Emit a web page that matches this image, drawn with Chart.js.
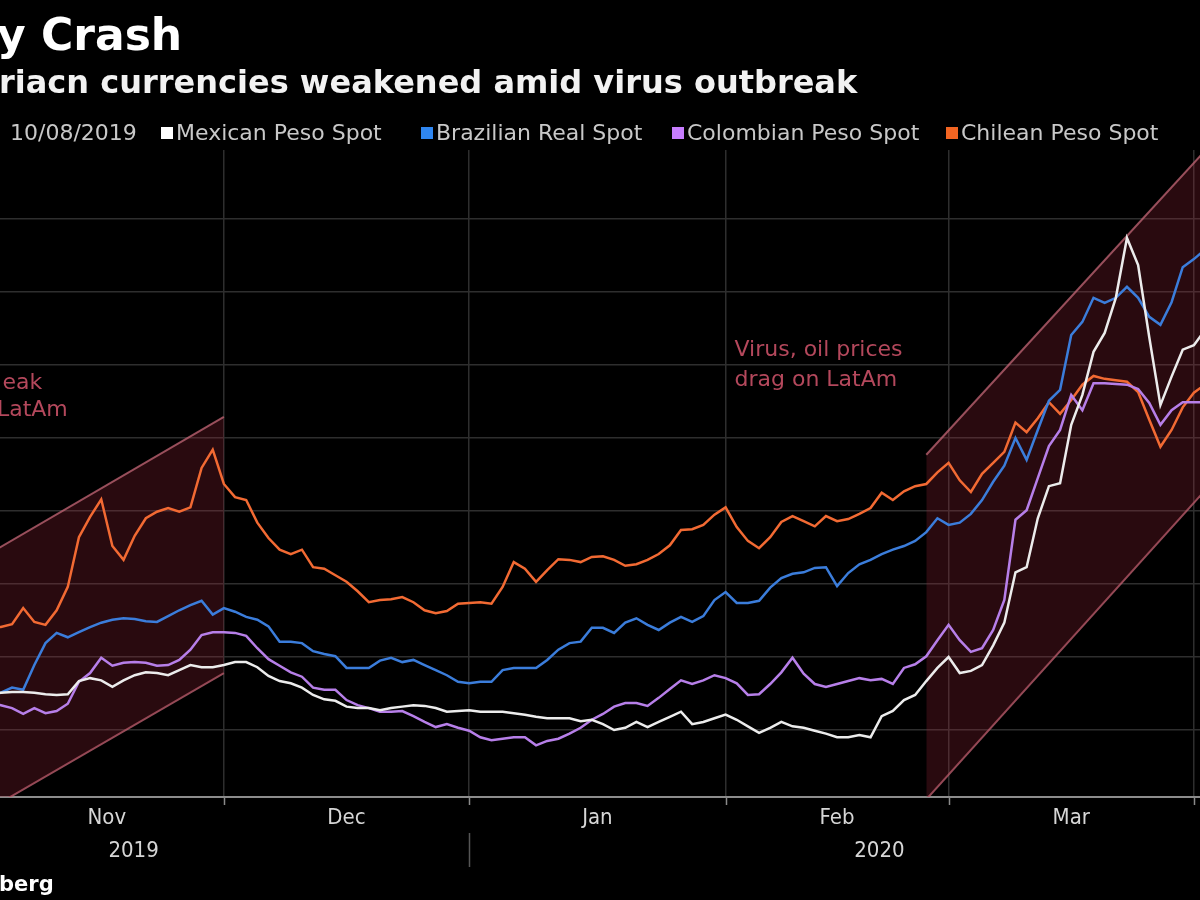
<!DOCTYPE html>
<html>
<head>
<meta charset="utf-8">
<script src="https://cdn.jsdelivr.net/npm/chart.js@4.4.1/dist/chart.umd.min.js"></script>
<style>
  html, body { margin: 0; padding: 0; background: #000; }
  #wrap { position: relative; width: 1200px; height: 900px; overflow: hidden; background: #000; font-family: "DejaVu Sans", sans-serif; }
  #chart { position: absolute; left: 0; top: 0; }
  .txt { position: absolute; white-space: nowrap; line-height: 1; }
  .title { left: -3px; top: 13px; color: #fff; font-weight: bold; font-size: 44px; }
  .subtitle { left: -1px; top: 66px; color: #f2f2f2; font-weight: bold; font-size: 32px; }
  .legend { top: 122px; color: #c8c8c8; font-size: 22px; }
  .legend i { display: inline-block; width: 12px; height: 12px; margin-right: 3px; vertical-align: 1px; }
  .source { left: -1px; top: 874px; color: #fff; font-weight: bold; font-size: 21px; }
</style>
</head>
<body>
<div id="wrap">
  <canvas id="chart" width="1200" height="900"></canvas>
  <div class="txt title">y Crash</div>
  <div class="txt subtitle">riacn currencies weakened amid virus outbreak</div>
  <div class="txt legend" style="left:10px">10/08/2019</div>
  <div id="legend"></div>
  <div class="txt source">berg</div>
</div>
<script>
// business days from 1 Nov 2019 (x axis index = position in this list)
const startDate = new Date(Date.UTC(2019, 10, 1));
const dayCount = 110;

const seriesNames = ["Mexican Peso Spot", "Brazilian Real Spot", "Colombian Peso Spot", "Chilean Peso Spot"];
const seriesColors = ["#ececec", "#3b7ddb", "#b77fe9", "#f26a33"];
const legendSwatch = ["#ffffff", "#2f86f0", "#c77dff", "#f26522"];

const mexicanPeso = [
  15.1, 15.1, 15.2, 15.2, 15.1, 14.9, 14.8, 14.9, 16.7, 17.1,
  16.8, 15.9, 16.8, 17.5, 17.9, 17.8, 17.5, 18.2, 18.9, 18.6,
  18.6, 18.9, 19.3, 19.3, 18.6, 17.4, 16.7, 16.4, 15.8, 14.8,
  14.2, 14.0, 13.2, 13.0, 13.0, 12.7, 13.0, 13.2, 13.4, 13.3,
  13.0, 12.5, 12.6, 12.7, 12.5, 12.5, 12.5, 12.3, 12.1, 11.8,
  11.6, 11.6, 11.6, 11.2, 11.4, 10.8, 10.0, 10.3, 11.1, 10.4,
  11.1, 11.8, 12.5, 10.8, 11.1, 11.6, 12.1, 11.4, 10.5, 9.6,
  10.3, 11.1, 10.5, 10.3, 9.9, 9.5, 9.0, 9.0, 9.3, 9.0,
  11.9, 12.6, 14.1, 14.8, 16.7, 18.5, 20.0, 17.8, 18.1, 18.9,
  21.6, 24.7, 31.6, 32.3, 39.0, 43.4, 43.8, 51.8, 55.9, 61.8,
  64.4, 69.2, 77.4, 73.7, 63.8, 54.5, 58.4, 62.1, 62.7, 64.8
];
const brazilianReal = [
  14.8, 15.1, 15.8, 15.5, 18.9, 21.9, 23.3, 22.7, 23.4, 24.1,
  24.7, 25.1, 25.3, 25.2, 24.9, 24.8, 25.6, 26.4, 27.1, 27.7,
  25.8, 26.7, 26.2, 25.5, 25.1, 24.2, 22.1, 22.1, 21.9, 20.8,
  20.4, 20.1, 18.5, 18.5, 18.5, 19.5, 19.9, 19.3, 19.6, 18.9,
  18.2, 17.5, 16.6, 16.4, 16.6, 16.6, 18.2, 18.5, 18.5, 18.5,
  19.6, 21.0, 21.9, 22.1, 24.0, 24.0, 23.3, 24.7, 25.3, 24.4,
  23.7, 24.7, 25.5, 24.8, 25.6, 27.8, 28.9, 27.4, 27.4, 27.7,
  29.5, 30.8, 31.4, 31.6, 32.2, 32.3, 29.7, 31.5, 32.7, 33.3,
  34.1, 34.7, 35.2, 35.9, 37.1, 39.0, 38.1, 38.4, 39.6, 41.5,
  44.0, 46.2, 50.0, 47.0, 51.1, 55.1, 56.6, 64.1, 65.9, 69.2,
  68.5, 69.2, 70.7, 69.2, 66.6, 65.5, 68.6, 73.4, 74.5, 75.8
];
const colombianPeso = [
  13.7, 13.4, 13.0, 12.2, 13.0, 12.3, 12.6, 13.6, 16.6, 17.8,
  19.9, 18.8, 19.2, 19.3, 19.2, 18.8, 18.9, 19.6, 21.0, 23.0,
  23.4, 23.4, 23.3, 22.9, 21.2, 19.7, 18.8, 17.9, 17.3, 15.8,
  15.5, 15.5, 14.1, 13.4, 13.0, 12.5, 12.5, 12.6, 11.9, 11.1,
  10.4, 10.8, 10.3, 9.9, 9.0, 8.6, 8.8, 9.0, 9.0, 7.9,
  8.5, 8.8, 9.5, 10.3, 11.4, 12.2, 13.2, 13.7, 13.7, 13.3,
  14.4, 15.6, 16.8, 16.3, 16.8, 17.5, 17.1, 16.4, 14.8, 14.9,
  16.3, 17.9, 19.9, 17.7, 16.3, 15.9, 16.3, 16.7, 17.1, 16.8,
  17.0, 16.3, 18.5, 19.0, 20.1, 22.3, 24.4, 22.3, 20.7, 21.2,
  23.7, 27.8, 38.8, 40.1, 44.5, 48.9, 51.1, 55.9, 53.8, 57.5,
  57.5, 57.4, 57.3, 56.7, 54.8, 51.8, 53.8, 54.9, 54.9, 54.9
];
const chileanPeso = [
  24.1, 24.1, 24.5, 26.7, 24.8, 24.4, 26.4, 29.6, 36.4, 39.2,
  41.6, 35.2, 33.3, 36.6, 39.0, 39.9, 40.4, 39.9, 40.5, 45.9,
  48.4, 43.7, 41.9, 41.5, 38.4, 36.3, 34.7, 34.1, 34.7, 32.3,
  32.1, 31.2, 30.3, 29.0, 27.5, 27.8, 27.9, 28.2, 27.5, 26.4,
  26.0, 26.3, 27.3, 27.4, 27.5, 27.3, 29.6, 33.0, 32.1, 30.3,
  31.9, 33.4, 33.3, 33.0, 33.7, 33.8, 33.3, 32.5, 32.7, 33.3,
  34.1, 35.3, 37.4, 37.5, 38.1, 39.5, 40.5, 37.8, 35.9, 34.9,
  36.4, 38.5, 39.3, 38.6, 37.9, 39.3, 38.6, 38.9, 39.6, 40.4,
  42.5, 41.5, 42.7, 43.4, 43.7, 45.3, 46.6, 44.2, 42.6, 45.1,
  46.6, 48.1, 52.1, 50.8, 52.7, 54.9, 53.3, 55.2, 57.3, 58.5,
  58.1, 57.9, 57.7, 56.3, 52.5, 48.8, 51.1, 54.2, 56.2, 57.3
];

// shaded trend channels: [start, end] on the day index, with values at each end
const channel1X = [0, 21];
const channel1Upper = [34.2, 52.9];
const channel1Lower = [-0.8, 17.8];
const channel2X = [84, 110];
const channel2Upper = [47.7, 91.0];
const channel2Lower = [0.5, 44.5];

const yGridValues = [10, 20, 30, 40, 50, 60, 70, 80];
const monthLabels = ["Nov", "Dec", "Jan", "Feb", "Mar"];
const yearLabels = ["2019", "2020"];
const yearCenters = [12.9, 79.8];

const notes = [
  { text: "Virus, oil prices", x: 66.8, y: 62.0, align: "left" },
  { text: "drag on LatAm", x: 66.8, y: 57.9, align: "left" },
  { text: "eak", x: 4.7, y: 57.5, align: "right" },
  { text: "LatAm", x: 7.0, y: 53.8, align: "right" },
];

function buildBusinessDays(start, n) {
  const out = [];
  const d = new Date(start);
  while (out.length < n) {
    const wd = d.getUTCDay();
    if (wd !== 0 && wd !== 6) out.push(new Date(d));
    d.setUTCDate(d.getUTCDate() + 1);
  }
  return out;
}

const businessDays = buildBusinessDays(startDate, dayCount);
const monthStarts = [0];
businessDays.forEach((d, i) => {
  if (i > 0 && d.getUTCMonth() !== businessDays[i - 1].getUTCMonth()) monthStarts.push(i);
});
const yearBreak = monthStarts[2];

const toPoints = (values) => values.map((y, i) => ({ x: i, y }));
const toSegment = (xs, ys) => xs.map((x, i) => ({ x, y: ys[i] }));

// legend
const legendLeft = [161, 421, 672, 946];
const legendEl = document.getElementById("legend");
seriesNames.forEach((name, i) => {
  const el = document.createElement("div");
  el.className = "txt legend";
  el.style.left = legendLeft[i] + "px";
  el.innerHTML = `<i style="background:${legendSwatch[i]}"></i>${name}`;
  legendEl.appendChild(el);
});

const CHANNEL_LINE = "rgba(190, 100, 115, 0.78)";
const CHANNEL_FILL = "rgba(160, 40, 58, 0.26)";
const NOTE_COLOR = "#b4485c";

const axisDecor = {
  id: "axisDecor",
  afterDraw(chart) {
    const { ctx, chartArea, scales } = chart;
    const x = scales.x;
    const y = scales.y;
    const bottom = chartArea.bottom;
    ctx.save();
    ctx.strokeStyle = "#8a8a8a";
    ctx.lineWidth = 1.5;
    monthStarts.slice(1).forEach((v) => {
      const px = Math.round(x.getPixelForValue(v)) + 0.5;
      ctx.beginPath();
      ctx.moveTo(px, bottom);
      ctx.lineTo(px, bottom + 8);
      ctx.stroke();
    });
    const sep = Math.round(x.getPixelForValue(yearBreak)) + 0.5;
    ctx.strokeStyle = "#555";
    ctx.beginPath();
    ctx.moveTo(sep, bottom + 36);
    ctx.lineTo(sep, bottom + 70);
    ctx.stroke();

    ctx.fillStyle = "#d6d6d6";
    ctx.font = '22px "DejaVu Sans Condensed", "DejaVu Sans", sans-serif';
    ctx.textAlign = "center";
    ctx.textBaseline = "middle";
    monthLabels.forEach((m, i) => {
      const mid = (monthStarts[i] + monthStarts[i + 1]) / 2;
      ctx.fillText(m, x.getPixelForValue(mid), bottom + 21);
    });
    yearLabels.forEach((yr, i) => {
      ctx.fillText(yr, x.getPixelForValue(yearCenters[i]), bottom + 54);
    });

    ctx.fillStyle = NOTE_COLOR;
    ctx.font = '22px "DejaVu Sans", sans-serif';
    notes.forEach((n) => {
      ctx.textAlign = n.align;
      ctx.fillText(n.text, x.getPixelForValue(n.x), y.getPixelForValue(n.y));
    });
    ctx.restore();
  },
};

const lineSet = (label, values, color) => ({
  label,
  data: toPoints(values),
  borderColor: color,
  borderWidth: 2.5,
  pointRadius: 0,
  tension: 0,
  fill: false,
  order: 1,
});

const channelSet = (xs, ys, fill) => ({
  label: "channel",
  data: toSegment(xs, ys),
  borderColor: CHANNEL_LINE,
  backgroundColor: CHANNEL_FILL,
  borderWidth: 2,
  pointRadius: 0,
  fill,
  order: 10,
});

new Chart(document.getElementById("chart"), {
  type: "line",
  data: {
    datasets: [
      lineSet(seriesNames[0], mexicanPeso, seriesColors[0]),
      lineSet(seriesNames[1], brazilianReal, seriesColors[1]),
      lineSet(seriesNames[2], colombianPeso, seriesColors[2]),
      lineSet(seriesNames[3], chileanPeso, seriesColors[3]),
      channelSet(channel1X, channel1Upper, "+1"),
      channelSet(channel1X, channel1Lower, false),
      channelSet(channel2X, channel2Upper, "+1"),
      channelSet(channel2X, channel2Lower, false),
    ],
  },
  plugins: [axisDecor],
  options: {
    responsive: false,
    animation: false,
    devicePixelRatio: 1,
    layout: { padding: { top: 150, bottom: 103, left: 0, right: 0 } },
    plugins: {
      legend: { display: false },
      tooltip: { enabled: false },
    },
    scales: {
      x: {
        type: "linear",
        min: 0.92,
        max: 108.55,
        afterBuildTicks(scale) {
          scale.ticks = monthStarts.slice(1).map((value) => ({ value }));
        },
        ticks: { display: false },
        grid: { color: "#2e2e2e", lineWidth: 1.5, drawTicks: false },
        border: { display: true, color: "#8c8c8c", width: 2 },
      },
      y: {
        min: 0.82,
        max: 89.45,
        afterBuildTicks(scale) {
          scale.ticks = yGridValues.map((value) => ({ value }));
        },
        ticks: { display: false },
        grid: { color: "#2e2e2e", lineWidth: 1.5, drawTicks: false },
        border: { display: false },
      },
    },
  },
});
</script>
</body>
</html>
